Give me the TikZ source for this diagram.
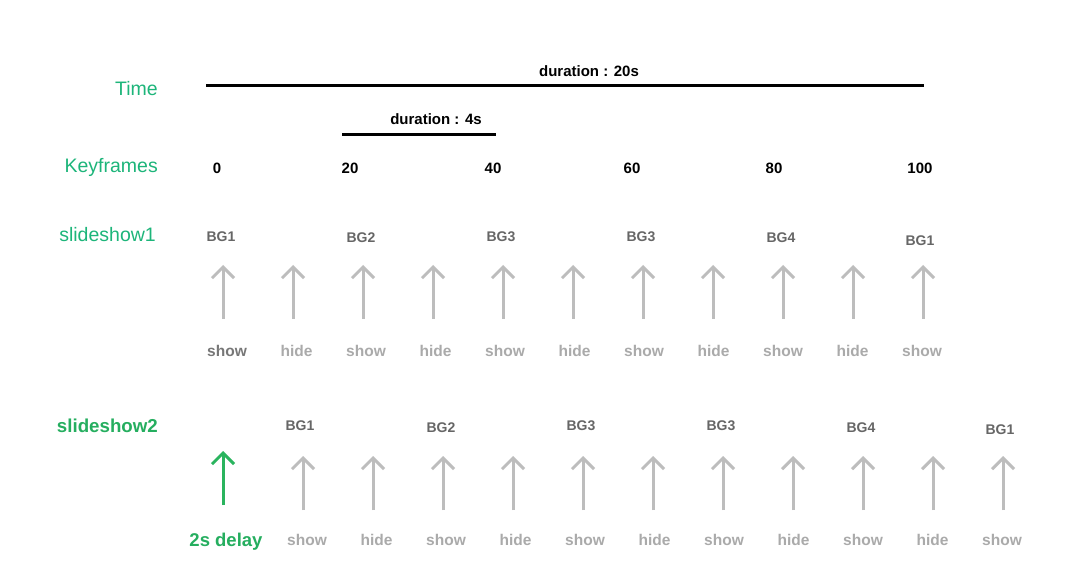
\documentclass[tikz,border=0pt]{standalone}
\usepackage{fontspec}
\setmainfont{Liberation Sans}
\usetikzlibrary{arrows.meta}
\definecolor{lblgreen}{HTML}{1DB57A}
\definecolor{dkgreen}{HTML}{25AE5F}
\definecolor{arrgreen}{HTML}{2AB45E}
\definecolor{arrgray}{HTML}{BDBDBD}
\definecolor{bggray}{HTML}{666666}
\definecolor{showdark}{HTML}{777777}
\definecolor{lightgr}{HTML}{AAAAAA}
\begin{document}
\begin{tikzpicture}[x=1pt,y=-1pt,
  txt/.style={inner sep=0pt, anchor=base},
  rowlabel/.style={inner sep=0pt, anchor=base east, text=lblgreen, font=\fontsize{19.5}{22}\selectfont},
  rowlabelb/.style={inner sep=0pt, anchor=base east, text=dkgreen, font=\fontsize{18.7}{22}\selectfont\bfseries},
  numlbl/.style={txt, font=\fontsize{15}{18}\selectfont\bfseries},
  bglbl/.style={txt, text=bggray, font=\fontsize{14}{17}\selectfont\bfseries},
  stlbl/.style={txt, text=lightgr, font=\fontsize{15.5}{18}\selectfont\bfseries},
  tickarrow/.style={draw=arrgray, line width=3pt, -{Straight Barb[length=11pt,width=22pt]}},
  barline/.style={line width=3pt}]
\useasboundingbox[fill=white] (0,0) rectangle (1080,580);

% row labels
\node[rowlabel] (time) at (158,96) {Time};
\node[rowlabel] (keyf) at (158,173) {Keyframes};
\node[rowlabel] (ss1) at (156,242) {slideshow1};
\node[rowlabelb] (ss2) at (158,432) {slideshow2};

% duration lines
\coordinate (t1) at (206,86);
\coordinate (t2) at (924,86);
\draw[barline] (t1) -- (t2);
\node[numlbl] (d20) at (589,77) {duration : 20s};
\coordinate (s1) at (342,135);
\coordinate (s2) at (496,135);
\draw[barline] (s1) -- (s2);
\node[numlbl] (d4) at (436,125) {duration : 4s};

% keyframe numbers
\node[numlbl] (k0) at (217,174) {0};
\node[numlbl] (k20) at (350,174) {20};
\node[numlbl] (k40) at (493,174) {40};
\node[numlbl] (k60) at (632,174) {60};
\node[numlbl] (k80) at (774,174) {80};
\node[numlbl] (k100) at (920,174) {100};

% slideshow1 BG labels
\node[bglbl] (ab1) at (221,242) {BG1};
\node[bglbl] (ab2) at (361,243) {BG2};
\node[bglbl] (ab3) at (501,242) {BG3};
\node[bglbl] (ab4) at (641,242) {BG3};
\node[bglbl] (ab5) at (781,243) {BG4};
\node[bglbl] (ab6) at (920,246) {BG1};

% slideshow1 arrows
\foreach \i in {0,...,10} {
  \pgfmathsetmacro\xx{223+70*\i}
  \coordinate (sa\i) at (\xx,319);
  \coordinate (sb\i) at (\xx,265);
  \draw[tickarrow] (sa\i) -- (sb\i);
}
% slideshow1 show/hide
\node[stlbl, text=showdark] (sh0) at (227,356) {show};
\foreach \i/\w in {1/hide,2/show,3/hide,4/show,5/hide,6/show,7/hide,8/show,9/hide,10/show} {
  \pgfmathsetmacro\xx{227+69.5*\i}
  \node[stlbl] (sh\i) at (\xx,356) {\w};
}

% slideshow2 BG labels
\node[bglbl] (bb1) at (300,430) {BG1};
\node[bglbl] (bb2) at (441,432) {BG2};
\node[bglbl] (bb3) at (581,430) {BG3};
\node[bglbl] (bb4) at (721,430) {BG3};
\node[bglbl] (bb5) at (861,432) {BG4};
\node[bglbl] (bb6) at (1000,434) {BG1};

% slideshow2 delay arrow
\coordinate (ga) at (223,505);
\coordinate (gb) at (223,451);
\draw[tickarrow, draw=arrgreen] (ga) -- (gb);
\node[txt, text=dkgreen, font=\fontsize{18.5}{22}\selectfont\bfseries] (delay) at (226,546) {2s delay};

% slideshow2 arrows
\foreach \i in {0,...,10} {
  \pgfmathsetmacro\xx{303+70*\i}
  \coordinate (ta\i) at (\xx,510);
  \coordinate (tb\i) at (\xx,456);
  \draw[tickarrow] (ta\i) -- (tb\i);
}
\foreach \i/\w in {0/show,1/hide,2/show,3/hide,4/show,5/hide,6/show,7/hide,8/show,9/hide,10/show} {
  \pgfmathsetmacro\xx{307+69.5*\i}
  \node[stlbl] (th\i) at (\xx,545) {\w};
}
\end{tikzpicture}
\end{document}
